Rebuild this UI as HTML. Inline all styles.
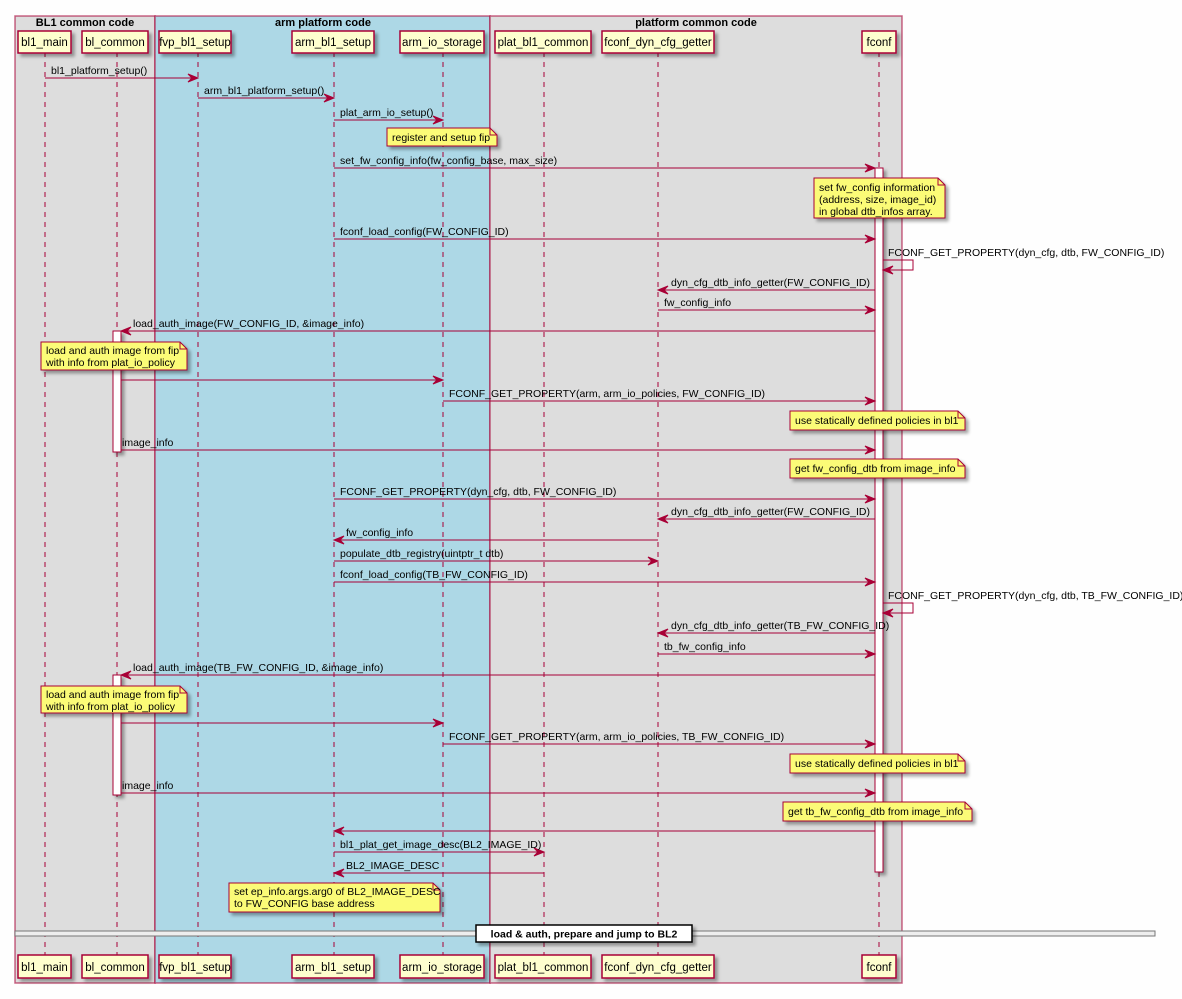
<!DOCTYPE html>
<html><head><meta charset="utf-8"><style>
html,body{margin:0;padding:0;background:#fefefe;}
svg{display:block;font-family:"Liberation Sans","DejaVu Sans",sans-serif;}
text{font-size:10.5px;fill:#000;}
.ll{stroke:#A80036;stroke-width:1;stroke-dasharray:5,5;}
.m{stroke:#A80036;stroke-width:1;}
.ah{fill:#A80036;stroke:#A80036;}
.p{fill:#FEFECE;stroke:#A80036;stroke-width:1.5;}
.n{fill:#FBFB77;stroke:#A80036;stroke-width:1;}
.act{fill:#fff;stroke:#A80036;stroke-width:1;}
.t{font-size:11.5px;}
</style></head><body>
<svg width="1182" height="999" viewBox="0 0 1182 999" xmlns="http://www.w3.org/2000/svg">
<defs>
<filter id="sh" x="-10%" y="-10%" width="130%" height="140%"><feDropShadow dx="3" dy="3" stdDeviation="1.5" flood-color="#000" flood-opacity="0.35"/></filter>
</defs>
<!-- groups -->
<rect x="15" y="16" width="140" height="967" fill="#DDDDDD" stroke="#A80036" stroke-opacity="0.6" stroke-width="1.5"/>
<rect x="155" y="16" width="335" height="967" fill="#ADD8E6" stroke="#A80036" stroke-opacity="0.6" stroke-width="1.5"/>
<rect x="490" y="16" width="412" height="967" fill="#DDDDDD" stroke="#A80036" stroke-opacity="0.6" stroke-width="1.5"/>
<text x="85" y="26" text-anchor="middle" font-weight="bold" style="font-size:11px">BL1 common code</text>
<text x="323" y="26" text-anchor="middle" font-weight="bold" style="font-size:11px">arm platform code</text>
<text x="696" y="26" text-anchor="middle" font-weight="bold" style="font-size:11px">platform common code</text>

<!-- lifelines -->
<g class="ll">
<line x1="45" y1="52" x2="45" y2="955"/><line x1="117" y1="52" x2="117" y2="955"/>
<line x1="198" y1="52" x2="198" y2="955"/><line x1="334" y1="52" x2="334" y2="955"/>
<line x1="443" y1="52" x2="443" y2="955"/><line x1="544" y1="52" x2="544" y2="955"/>
<line x1="658" y1="52" x2="658" y2="955"/><line x1="879" y1="52" x2="879" y2="955"/>
</g>

<!-- participants -->
<g filter="url(#sh)">
<rect class="p" x="18" y="31" width="53" height="22"/><rect class="p" x="82" y="31" width="66" height="22"/>
<rect class="p" x="159" y="31" width="72" height="22"/><rect class="p" x="292" y="31" width="82" height="22"/>
<rect class="p" x="400" y="31" width="84" height="22"/><rect class="p" x="495" y="31" width="96" height="22"/>
<rect class="p" x="602" y="31" width="112" height="22"/><rect class="p" x="862" y="31" width="34" height="22"/>
<rect class="p" x="18" y="955" width="53" height="23"/><rect class="p" x="82" y="955" width="66" height="23"/>
<rect class="p" x="159" y="955" width="72" height="23"/><rect class="p" x="292" y="955" width="82" height="23"/>
<rect class="p" x="400" y="955" width="84" height="23"/><rect class="p" x="495" y="955" width="96" height="23"/>
<rect class="p" x="602" y="955" width="112" height="23"/><rect class="p" x="862" y="955" width="34" height="23"/>
</g>
<g class="t" text-anchor="middle">
<text class="t" x="44.5" y="46">bl1_main</text><text class="t" x="115" y="46">bl_common</text>
<text class="t" x="195" y="46">fvp_bl1_setup</text><text class="t" x="333" y="46">arm_bl1_setup</text>
<text class="t" x="442" y="46">arm_io_storage</text><text class="t" x="543" y="46">plat_bl1_common</text>
<text class="t" x="658" y="46">fconf_dyn_cfg_getter</text><text class="t" x="879" y="46">fconf</text>
<text class="t" x="44.5" y="971">bl1_main</text><text class="t" x="115" y="971">bl_common</text>
<text class="t" x="195" y="971">fvp_bl1_setup</text><text class="t" x="333" y="971">arm_bl1_setup</text>
<text class="t" x="442" y="971">arm_io_storage</text><text class="t" x="543" y="971">plat_bl1_common</text>
<text class="t" x="658" y="971">fconf_dyn_cfg_getter</text><text class="t" x="879" y="971">fconf</text>
</g>

<!-- activations -->
<g filter="url(#sh)">
<rect class="act" x="875" y="168" width="8" height="704"/>
<rect class="act" x="113" y="331" width="8" height="121"/>
<rect class="act" x="113" y="675" width="8" height="120"/>
</g>

<!-- messages -->
<g class="m">
<line x1="45" y1="78" x2="198" y2="78"/>
<line x1="198" y1="98" x2="334" y2="98"/>
<line x1="334" y1="120" x2="443" y2="120"/>
<line x1="334" y1="168" x2="875" y2="168"/>
<line x1="334" y1="239" x2="875" y2="239"/>
<polyline fill="none" points="883,260 913,260 913,270 883,270"/>
<line x1="658" y1="290" x2="875" y2="290"/>
<line x1="658" y1="310" x2="875" y2="310"/>
<line x1="121" y1="331" x2="875" y2="331"/>
<line x1="121" y1="380" x2="443" y2="380"/>
<line x1="443" y1="401" x2="875" y2="401"/>
<line x1="121" y1="450" x2="875" y2="450"/>
<line x1="334" y1="499" x2="875" y2="499"/>
<line x1="658" y1="519" x2="875" y2="519"/>
<line x1="334" y1="540" x2="658" y2="540"/>
<line x1="334" y1="561" x2="658" y2="561"/>
<line x1="334" y1="582" x2="875" y2="582"/>
<polyline fill="none" points="883,603 913,603 913,613 883,613"/>
<line x1="658" y1="633" x2="875" y2="633"/>
<line x1="658" y1="654" x2="875" y2="654"/>
<line x1="121" y1="675" x2="875" y2="675"/>
<line x1="121" y1="723" x2="443" y2="723"/>
<line x1="443" y1="744" x2="875" y2="744"/>
<line x1="121" y1="793" x2="875" y2="793"/>
<line x1="334" y1="831" x2="875" y2="831"/>
<line x1="334" y1="852" x2="544" y2="852"/>
<line x1="334" y1="873" x2="544" y2="873"/>
</g>
<!-- arrowheads right: tip at x -->
<g class="ah">
<polygon points="188,74 198,78 188,82 192,78"/>
<polygon points="324,94 334,98 324,102 328,98"/>
<polygon points="433,116 443,120 433,124 437,120"/>
<polygon points="865,164 875,168 865,172 869,168"/>
<polygon points="865,235 875,239 865,243 869,239"/>
<polygon points="893,266 883,270 893,274 889,270"/>
<polygon points="668,286 658,290 668,294 664,290"/>
<polygon points="865,306 875,310 865,314 869,310"/>
<polygon points="131,327 121,331 131,335 127,331"/>
<polygon points="433,376 443,380 433,384 437,380"/>
<polygon points="865,397 875,401 865,405 869,401"/>
<polygon points="865,446 875,450 865,454 869,450"/>
<polygon points="865,495 875,499 865,503 869,499"/>
<polygon points="668,515 658,519 668,523 664,519"/>
<polygon points="344,536 334,540 344,544 340,540"/>
<polygon points="648,557 658,561 648,565 652,561"/>
<polygon points="865,578 875,582 865,586 869,582"/>
<polygon points="893,609 883,613 893,617 889,613"/>
<polygon points="668,629 658,633 668,637 664,633"/>
<polygon points="865,650 875,654 865,658 869,654"/>
<polygon points="131,671 121,675 131,679 127,675"/>
<polygon points="433,719 443,723 433,727 437,723"/>
<polygon points="865,740 875,744 865,748 869,744"/>
<polygon points="865,789 875,793 865,797 869,793"/>
<polygon points="344,827 334,831 344,835 340,831"/>
<polygon points="534,848 544,852 534,856 538,852"/>
<polygon points="344,869 334,873 344,877 340,873"/>
</g>
<!-- message labels -->
<g>
<text x="51" y="74">bl1_platform_setup()</text>
<text x="204" y="94">arm_bl1_platform_setup()</text>
<text x="340" y="116">plat_arm_io_setup()</text>
<text x="340" y="164">set_fw_config_info(fw_config_base, max_size)</text>
<text x="340" y="235">fconf_load_config(FW_CONFIG_ID)</text>
<text x="888" y="256">FCONF_GET_PROPERTY(dyn_cfg, dtb, FW_CONFIG_ID)</text>
<text x="671" y="286">dyn_cfg_dtb_info_getter(FW_CONFIG_ID)</text>
<text x="664" y="306">fw_config_info</text>
<text x="133" y="327">load_auth_image(FW_CONFIG_ID, &amp;image_info)</text>
<text x="449" y="397">FCONF_GET_PROPERTY(arm, arm_io_policies, FW_CONFIG_ID)</text>
<text x="122" y="446">image_info</text>
<text x="340" y="495">FCONF_GET_PROPERTY(dyn_cfg, dtb, FW_CONFIG_ID)</text>
<text x="671" y="515">dyn_cfg_dtb_info_getter(FW_CONFIG_ID)</text>
<text x="346" y="536">fw_config_info</text>
<text x="340" y="557">populate_dtb_registry(uintptr_t dtb)</text>
<text x="340" y="578">fconf_load_config(TB_FW_CONFIG_ID)</text>
<text x="888" y="599">FCONF_GET_PROPERTY(dyn_cfg, dtb, TB_FW_CONFIG_ID)</text>
<text x="671" y="629">dyn_cfg_dtb_info_getter(TB_FW_CONFIG_ID)</text>
<text x="664" y="650">tb_fw_config_info</text>
<text x="133" y="671">load_auth_image(TB_FW_CONFIG_ID, &amp;image_info)</text>
<text x="449" y="740">FCONF_GET_PROPERTY(arm, arm_io_policies, TB_FW_CONFIG_ID)</text>
<text x="122" y="789">image_info</text>
<text x="340" y="848">bl1_plat_get_image_desc(BL2_IMAGE_ID)</text>
<text x="346" y="869">BL2_IMAGE_DESC</text>
</g>

<!-- notes -->
<g filter="url(#sh)">
<polygon class="n" points="387,128 490,128 497,135 497,146 387,146"/>
<polygon class="n" points="814,178 938,178 945,185 945,218 814,218"/>
<polygon class="n" points="41,342 180,342 187,349 187,370 41,370"/>
<polygon class="n" points="790,411 958,411 965,418 965,430 790,430"/>
<polygon class="n" points="790,459 958,459 965,466 965,478 790,478"/>
<polygon class="n" points="41,686 180,686 187,693 187,713 41,713"/>
<polygon class="n" points="790,754 958,754 965,761 965,773 790,773"/>
<polygon class="n" points="783,802 965,802 972,809 972,821 783,821"/>
<polygon class="n" points="229,883 433,883 440,890 440,912 229,912"/>
</g>
<g fill="none" stroke="#A80036" stroke-width="1">
<polyline points="490,128 490,135 497,135"/><polyline points="938,178 938,185 945,185"/>
<polyline points="180,342 180,349 187,349"/><polyline points="958,411 958,418 965,418"/>
<polyline points="958,459 958,466 965,466"/><polyline points="180,686 180,693 187,693"/>
<polyline points="958,754 958,761 965,761"/><polyline points="965,802 965,809 972,809"/>
<polyline points="433,883 433,890 440,890"/>
</g>
<g>
<text x="392" y="141">register and setup fip</text>
<text x="819" y="191">set fw_config information</text>
<text x="819" y="203">(address, size, image_id)</text>
<text x="819" y="215">in global dtb_infos array.</text>
<text x="46" y="354">load and auth image from fip</text>
<text x="46" y="366">with info from plat_io_policy</text>
<text x="795" y="424">use statically defined policies in bl1</text>
<text x="795" y="472">get fw_config_dtb from image_info</text>
<text x="46" y="698">load and auth image from fip</text>
<text x="46" y="710">with info from plat_io_policy</text>
<text x="795" y="767">use statically defined policies in bl1</text>
<text x="788" y="815">get tb_fw_config_dtb from image_info</text>
<text x="234" y="895">set ep_info.args.arg0 of BL2_IMAGE_DESC</text>
<text x="234" y="907">to FW_CONFIG base address</text>
</g>

<!-- divider -->
<rect x="15" y="931" width="1140" height="5" fill="#EEEEEE" stroke="#777" stroke-width="1"/>
<g filter="url(#sh)"><rect x="476" y="925" width="216" height="17" fill="#fff" stroke="#000" stroke-width="1.5"/></g>
<text x="584" y="937.5" text-anchor="middle" font-weight="bold" style="font-size:10.5px">load &amp; auth, prepare and jump to BL2</text>
</svg>
</body></html>
